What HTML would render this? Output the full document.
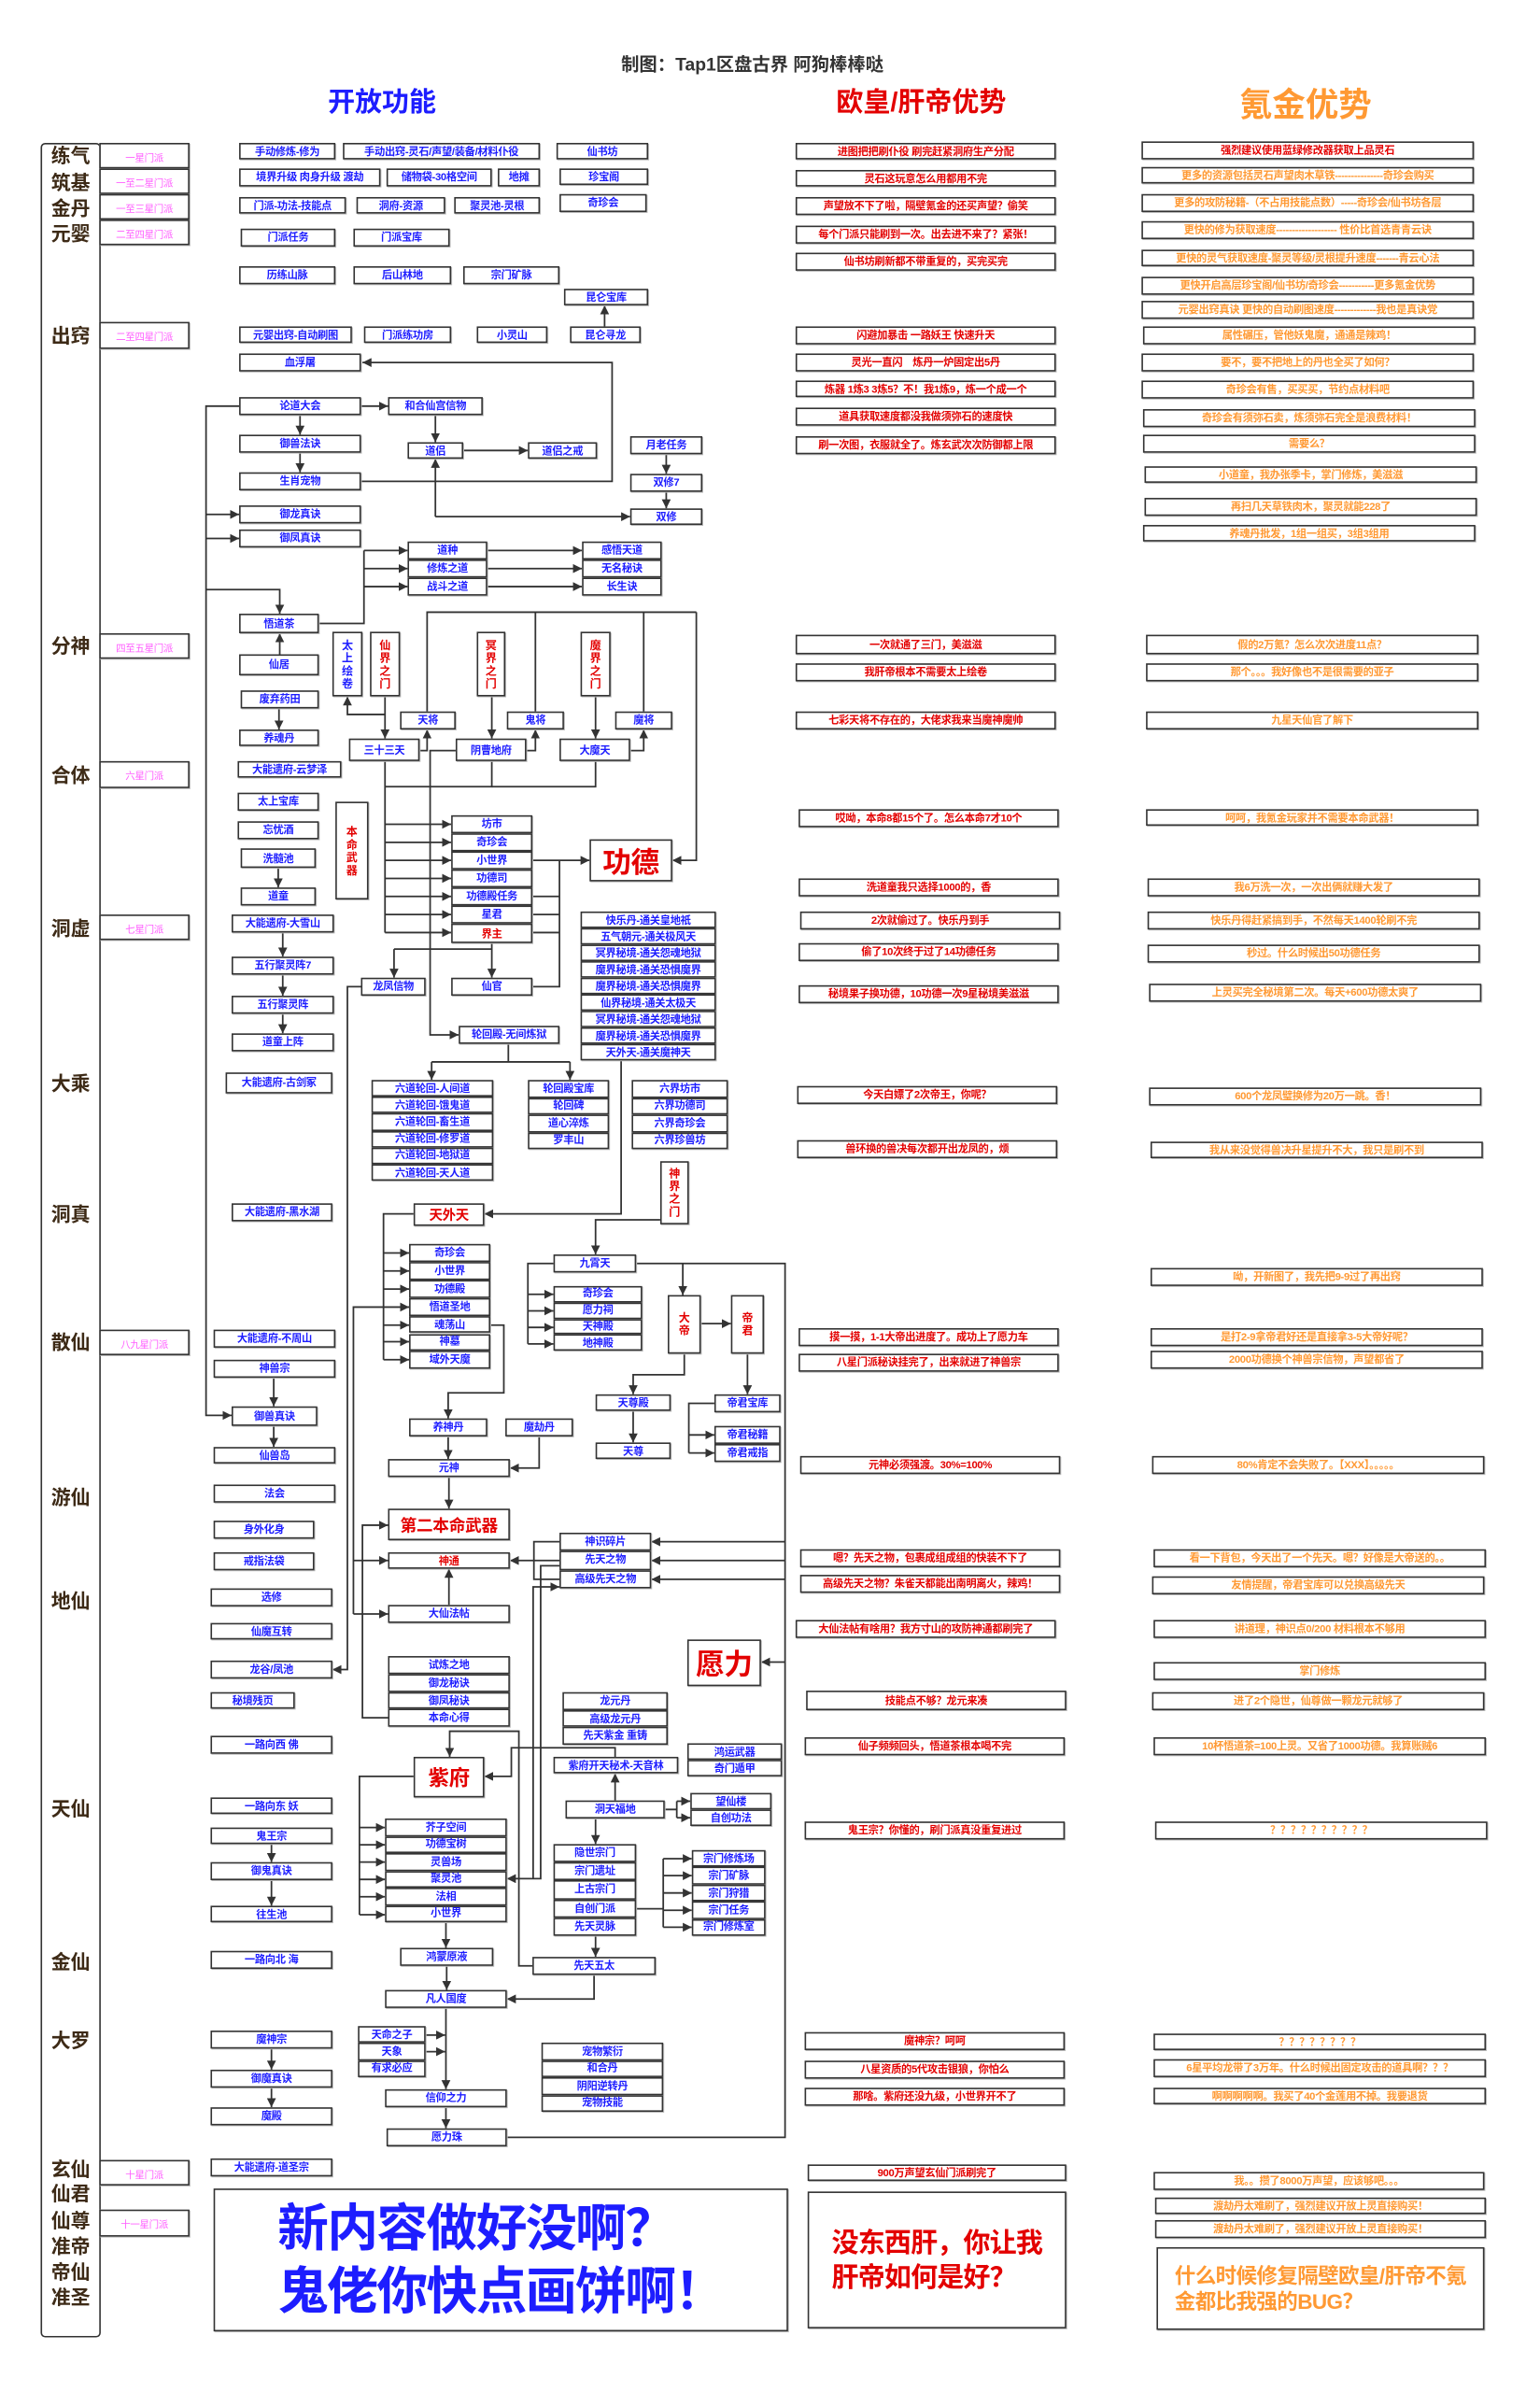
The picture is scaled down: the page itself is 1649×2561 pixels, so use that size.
<!DOCTYPE html>
<html><head><meta charset="utf-8">
<style>
html,body{margin:0;padding:0;background:#fff;width:1649px;height:2560px;overflow:hidden}
#c{position:absolute;left:0;top:0;width:1024px;height:1590px;transform:scale(1.6104);transform-origin:0 0;font-family:"Liberation Sans","Noto Sans CJK SC",sans-serif}
.b{position:absolute;box-sizing:border-box;border:1.1px solid #333;background:#fff;color:#1d1dff;font-weight:bold;font-size:7px;display:flex;align-items:center;justify-content:center;white-space:nowrap;letter-spacing:-0.2px;box-shadow:0.6px 0.6px 0 #bbb}
.r{color:#e30000}.o{color:#ff9933}.p{color:#ff5cff;font-weight:normal;font-size:6.5px}
.v{writing-mode:vertical-lr;text-orientation:upright;letter-spacing:1px;font-size:7.5px}
.t{position:absolute;font-weight:bold;white-space:nowrap}
.rl{position:absolute;left:28px;width:38px;text-align:center;font-size:13px;font-weight:bold;color:#3d2a16;line-height:14px}
svg{position:absolute;left:0;top:0}
svg polyline{fill:none;stroke:#333;stroke-width:1.1}
svg .a{marker-end:url(#m)}
</style></head><body><div id="c">
<svg width="1024" height="1590" viewBox="0 0 1024 1590">
<defs><marker id="m" markerUnits="userSpaceOnUse" markerWidth="6" markerHeight="6" refX="6" refY="3" orient="auto"><path d="M0,0L6,3L0,6z" fill="#333"/></marker></defs>
<polyline class="a" points="402,217 402,203"/>
<polyline class="a" points="240,320 407,320 407,241 241,241"/>
<polyline class="a" points="240,270 258,270"/>
<polyline class="a" points="199.5,276 199.5,289"/>
<polyline class="a" points="199.5,301 199.5,314"/>
<polyline class="a" points="289.5,276 289.5,294"/>
<polyline class="a" points="308,299.5 351,299.5"/>
<polyline class="a" points="443,302 443,315"/>
<polyline class="a" points="443,327 443,338"/>
<polyline class="a" points="289.5,343.5 419,343.5"/>
<polyline class="a" points="289.5,343.5 289.5,305"/>
<polyline class="a" points="159,270 137,270 137,941 154,941"/>
<polyline class="a" points="137,342 159,342"/>
<polyline class="a" points="137,358 159,358"/>
<polyline class="a" points="137,392 186,392 186,408"/>
<polyline class="a" points="186,435 186,421"/>
<polyline points="212,414.5 242,414.5 242,366"/>
<polyline class="a" points="242,366 271,366"/>
<polyline class="a" points="242,378 271,378"/>
<polyline class="a" points="242,390 271,390"/>
<polyline class="a" points="324,366 387,366"/>
<polyline class="a" points="324,378 387,378"/>
<polyline class="a" points="324,390 387,390"/>
<polyline class="a" points="185.5,471 185.5,485"/>
<polyline class="a" points="185,577 185,590"/>
<polyline class="a" points="256,463 256,491"/>
<polyline class="a" points="256,475 231,475 231,463"/>
<polyline points="284,473 284,407 463,407"/>
<polyline points="356,407 356,473"/>
<polyline points="428,407 428,473"/>
<polyline class="a" points="463,407 463,572 447,572"/>
<polyline class="a" points="327,463 327,491"/>
<polyline class="a" points="396,463 396,491"/>
<polyline class="a" points="279,499 284,499 284,485"/>
<polyline class="a" points="350,499 356,499 356,485"/>
<polyline class="a" points="419,499 428,499 428,485"/>
<polyline points="327,506 327,523 256,523"/>
<polyline points="396,506 396,523 327,523"/>
<polyline points="256,506 256,620"/>
<polyline class="a" points="256,548 300,548"/>
<polyline class="a" points="256,560 300,560"/>
<polyline class="a" points="256,572 300,572"/>
<polyline class="a" points="256,584 300,584"/>
<polyline class="a" points="256,596 300,596"/>
<polyline class="a" points="256,608 300,608"/>
<polyline class="a" points="256,620 300,620"/>
<polyline class="a" points="303,499 286,499 286,688 305,688"/>
<polyline class="a" points="354,572 392,572"/>
<polyline points="372,572 372,656 354,656"/>
<polyline points="354,596 372,596"/><polyline points="354,608 372,608"/><polyline points="354,620 372,620"/>
<polyline points="327,627 327,631 262,631"/>
<polyline class="a" points="262,631 262,650"/>
<polyline class="a" points="327,631 327,650"/>
<polyline class="a" points="240,656 231,656 231,1110 221,1110"/>
<polyline points="338,694 338,706"/>
<polyline class="a" points="287,706 287,718"/>
<polyline class="a" points="379,706 379,718"/>
<polyline points="287,706 379,706"/>
<polyline class="a" points="413,705 413,807 322,807"/>
<polyline class="a" points="439,811 396,811 396,834"/>
<polyline points="275,807 255,807 255,904"/>
<polyline class="a" points="255,833 272,833"/>
<polyline class="a" points="255,845 272,845"/>
<polyline class="a" points="255,857 272,857"/>
<polyline class="a" points="255,881 272,881"/>
<polyline class="a" points="255,892 272,892"/>
<polyline class="a" points="255,904 272,904"/>
<polyline class="a" points="235,1073 235,869 272,869"/>
<polyline class="a" points="235,1037.5 258,1037.5"/>
<polyline class="a" points="235,1073 258,1073"/>
<polyline class="a" points="326,881 335,881 335,926 298,926 298,943"/>
<polyline class="a" points="298,955 298,970"/>
<polyline class="a" points="358.5,955 358.5,976 339,976"/>
<polyline class="a" points="298.5,982 298.5,1003"/>
<polyline points="368,840 351,840 351,893.5"/>
<polyline class="a" points="351,860.5 368,860.5"/>
<polyline class="a" points="351,871.5 368,871.5"/>
<polyline class="a" points="351,882.5 368,882.5"/>
<polyline class="a" points="351,893.5 368,893.5"/>
<polyline points="423,840 522,840 522,1421 337,1421"/>
<polyline class="a" points="454,840 454,861"/>
<polyline class="a" points="466,880 486,880"/>
<polyline class="a" points="455,900 455,914 421,914 421,927"/>
<polyline class="a" points="421,938 421,959"/>
<polyline class="a" points="497,900 497,927"/>
<polyline points="475,933 458,933 458,966"/>
<polyline class="a" points="458,954 475,954"/>
<polyline class="a" points="458,966 475,966"/>
<polyline class="a" points="522,1025 433,1025"/>
<polyline class="a" points="522,1037.5 433,1037.5"/>
<polyline class="a" points="522,1050 433,1050"/>
<polyline class="a" points="522,1105 506,1105"/>
<polyline class="a" points="372,1037.5 339,1037.5"/>
<polyline class="a" points="298.5,1067 298.5,1043"/>
<polyline class="a" points="258,1142 241,1142 241,1014 258,1014"/>
<polyline points="372,1025 355,1025 355,1050 372,1050"/>
<polyline class="a" points="372,1041 359.5,1041 359.5,1249 337,1249"/>
<polyline class="a" points="354.5,1249 354.5,1055 372,1055"/>
<polyline class="a" points="409,1168 409,1162 340,1162 340,1181 322,1181"/>
<polyline class="a" points="354,1307 345,1307 345,1151 299,1151 299,1168"/>
<polyline points="275,1181 239,1181 239,1273"/>
<polyline class="a" points="239,1215 256,1215"/>
<polyline class="a" points="239,1226.5 256,1226.5"/>
<polyline class="a" points="239,1238 256,1238"/>
<polyline class="a" points="239,1249.5 256,1249.5"/>
<polyline class="a" points="239,1261 256,1261"/>
<polyline class="a" points="239,1273 256,1273"/>
<polyline class="a" points="296.5,1278 296.5,1295"/>
<polyline class="a" points="297,1307 297,1323"/>
<polyline class="a" points="409,1197 409,1179"/>
<polyline points="442,1203 450,1203 450,1197.5 450,1208.5"/>
<polyline class="a" points="450,1197.5 459,1197.5"/>
<polyline class="a" points="450,1208.5 459,1208.5"/>
<polyline class="a" points="396,1209 396,1226"/>
<polyline points="423,1269 441,1269"/>
<polyline points="441,1235.7 441,1281.3"/>
<polyline class="a" points="441,1235.7 460,1235.7"/>
<polyline class="a" points="441,1247 460,1247"/>
<polyline class="a" points="441,1258.5 460,1258.5"/>
<polyline class="a" points="441,1270 460,1270"/>
<polyline class="a" points="441,1281.3 460,1281.3"/>
<polyline class="a" points="396,1287 396,1301"/>
<polyline class="a" points="395,1313 395,1329 337,1329"/>
<polyline class="a" points="296.5,1335 296.5,1389"/>
<polyline class="a" points="283,1353 296,1353"/>
<polyline class="a" points="283,1364 296,1364"/>
<polyline class="a" points="296.5,1401 296.5,1415"/>
<polyline class="a" points="180.5,1362 180.5,1376"/>
<polyline class="a" points="180.5,1388 180.5,1401"/>
<polyline class="a" points="182,916 182,935"/>
<polyline class="a" points="182,948 182,962"/>
<polyline class="a" points="180.5,1226 180.5,1238"/>
<polyline class="a" points="180.5,1250 180.5,1267"/>
<polyline class="a" points="188,620 188,636"/>
<polyline class="a" points="188,648 188,662"/>
<polyline class="a" points="188,674 188,687"/>
</svg>

<div class="t" style="left:413px;top:34px;font-size:12px;color:#333">制图：Tap1区盘古界 阿狗棒棒哒</div>
<div class="t" style="left:218px;top:54px;font-size:18px;color:#1d1dff">开放功能</div>
<div class="t" style="left:556px;top:54px;font-size:18px;color:#e30000">欧皇/肝帝优势</div>
<div class="t" style="left:824px;top:52px;font-size:22px;color:#ff9933">氪金优势</div>

<div style="position:absolute;left:27px;top:95px;width:40px;height:1459px;box-sizing:border-box;border:1.2px solid #333;border-radius:3px"></div>
<div class="rl" style="top:97px">练气</div><div class="rl" style="top:115px">筑基</div><div class="rl" style="top:132px">金丹</div><div class="rl" style="top:149px">元婴</div>
<div class="rl" style="top:217px">出窍</div><div class="rl" style="top:423px">分神</div><div class="rl" style="top:509px">合体</div><div class="rl" style="top:611px">洞虚</div><div class="rl" style="top:714px">大乘</div>
<div class="rl" style="top:801px">洞真</div><div class="rl" style="top:886px">散仙</div><div class="rl" style="top:989px">游仙</div><div class="rl" style="top:1058px">地仙</div>
<div class="rl" style="top:1196px">天仙</div><div class="rl" style="top:1298px">金仙</div><div class="rl" style="top:1350px">大罗</div>
<div class="rl" style="top:1436px">玄仙</div><div class="rl" style="top:1452px">仙君</div><div class="rl" style="top:1470px">仙尊</div><div class="rl" style="top:1487px">准帝</div><div class="rl" style="top:1504px">帝仙</div><div class="rl" style="top:1521px">准圣</div>

<div class="b p" style="left:66px;top:95px;width:60px;height:17px">一星门派</div>
<div class="b p" style="left:66px;top:112px;width:60px;height:17px">一至二星门派</div>
<div class="b p" style="left:66px;top:129px;width:60px;height:17px">一至三星门派</div>
<div class="b p" style="left:66px;top:146px;width:60px;height:17px">二至四星门派</div>
<div class="b p" style="left:66px;top:214px;width:60px;height:18px">二至四星门派</div>
<div class="b p" style="left:66px;top:421px;width:60px;height:17px">四至五星门派</div>
<div class="b p" style="left:66px;top:506px;width:60px;height:18px">六星门派</div>
<div class="b p" style="left:66px;top:608px;width:60px;height:17px">七星门派</div>
<div class="b p" style="left:66px;top:884px;width:60px;height:17px">八九星门派</div>
<div class="b p" style="left:66px;top:1436px;width:60px;height:17px">十星门派</div>
<div class="b p" style="left:66px;top:1469px;width:60px;height:18px">十一星门派</div>

<div class="b" style="left:159px;top:95px;width:64px;height:11px">手动修炼-修为</div>
<div class="b" style="left:228px;top:95px;width:131px;height:11px">手动出窍-灵石/声望/装备/材料仆役</div>
<div class="b" style="left:370px;top:95px;width:61px;height:11px">仙书坊</div>
<div class="b" style="left:159px;top:112px;width:94px;height:12px">境界升级 肉身升级 渡劫</div>
<div class="b" style="left:257px;top:112px;width:70px;height:12px">储物袋-30格空间</div>
<div class="b" style="left:331px;top:112px;width:28px;height:12px">地摊</div>
<div class="b" style="left:372px;top:112px;width:59px;height:11px">珍宝阁</div>
<div class="b" style="left:159px;top:131px;width:71px;height:11px">门派-功法-技能点</div>
<div class="b" style="left:237px;top:131px;width:59px;height:11px">洞府-资源</div>
<div class="b" style="left:302px;top:131px;width:57px;height:11px">聚灵池-灵根</div>
<div class="b" style="left:372px;top:129px;width:58px;height:12px">奇珍会</div>
<div class="b" style="left:160px;top:152px;width:63px;height:12px">门派任务</div>
<div class="b" style="left:235px;top:152px;width:64px;height:12px">门派宝库</div>
<div class="b" style="left:159px;top:177px;width:64px;height:12px">历练山脉</div>
<div class="b" style="left:235px;top:177px;width:65px;height:12px">后山林地</div>
<div class="b" style="left:308px;top:177px;width:64px;height:12px">宗门矿脉</div>
<div class="b" style="left:375px;top:192px;width:56px;height:11px">昆仑宝库</div>
<div class="b" style="left:159px;top:217px;width:75px;height:11px">元婴出窍-自动刷图</div>
<div class="b" style="left:242px;top:217px;width:58px;height:11px">门派练功房</div>
<div class="b" style="left:317px;top:217px;width:47px;height:11px">小灵山</div>
<div class="b" style="left:379px;top:217px;width:47px;height:11px">昆仑寻龙</div>
<div class="b" style="left:159px;top:235px;width:81px;height:12px">血浮屠</div>
<div class="b" style="left:159px;top:264px;width:81px;height:12px">论道大会</div>
<div class="b" style="left:258px;top:264px;width:63px;height:12px">和合仙宫信物</div>
<div class="b" style="left:159px;top:289px;width:81px;height:12px">御兽法诀</div>
<div class="b" style="left:159px;top:314px;width:81px;height:12px">生肖宠物</div>
<div class="b" style="left:271px;top:294px;width:37px;height:11px">道侣</div>
<div class="b" style="left:351px;top:294px;width:46px;height:11px">道侣之戒</div>
<div class="b" style="left:419px;top:290px;width:48px;height:12px">月老任务</div>
<div class="b" style="left:419px;top:315px;width:48px;height:12px">双修7</div>
<div class="b" style="left:419px;top:338px;width:48px;height:11px">双修</div>
<div class="b" style="left:159px;top:336px;width:81px;height:12px">御龙真诀</div>
<div class="b" style="left:159px;top:352px;width:81px;height:12px">御凤真诀</div>
<div class="b" style="left:271px;top:360px;width:53px;height:12px">道种</div>
<div class="b" style="left:271px;top:372px;width:53px;height:12px">修炼之道</div>
<div class="b" style="left:271px;top:384px;width:53px;height:12px">战斗之道</div>
<div class="b" style="left:387px;top:360px;width:53px;height:12px">感悟天道</div>
<div class="b" style="left:387px;top:372px;width:53px;height:12px">无名秘诀</div>
<div class="b" style="left:387px;top:384px;width:53px;height:12px">长生诀</div>
<div class="b" style="left:159px;top:408px;width:53px;height:13px">悟道茶</div>
<div class="b" style="left:159px;top:435px;width:53px;height:14px">仙居</div>
<div class="b" style="left:160px;top:459px;width:52px;height:12px">废弃药田</div>
<div class="b" style="left:159px;top:485px;width:53px;height:11px">养魂丹</div>
<div class="b" style="left:158px;top:506px;width:69px;height:11px">大能遗府-云梦泽</div>
<div class="b" style="left:158px;top:527px;width:54px;height:12px">太上宝库</div>
<div class="b" style="left:158px;top:546px;width:54px;height:12px">忘忧酒</div>
<div class="b" style="left:160px;top:564px;width:50px;height:13px">洗髓池</div>
<div class="b" style="left:160px;top:590px;width:50px;height:12px">道童</div>
<div class="b r v" style="left:223px;top:533px;width:22px;height:65px">本命武器</div>
<div class="b" style="left:154px;top:608px;width:68px;height:12px">大能遗府-大雪山</div>
<div class="b" style="left:154px;top:636px;width:68px;height:12px">五行聚灵阵7</div>
<div class="b" style="left:154px;top:662px;width:68px;height:12px">五行聚灵阵</div>
<div class="b" style="left:154px;top:687px;width:68px;height:12px">道童上阵</div>
<div class="b" style="left:150px;top:713px;width:71px;height:14px">大能遗府-古剑冢</div>
<div class="b v" style="left:221px;top:420px;width:20px;height:43px">太上绘卷</div>
<div class="b r v" style="left:246px;top:420px;width:20px;height:43px">仙界之门</div>
<div class="b r v" style="left:317px;top:420px;width:19px;height:43px">冥界之门</div>
<div class="b r v" style="left:386px;top:420px;width:20px;height:43px">魔界之门</div>
<div class="b" style="left:266px;top:473px;width:37px;height:12px">天将</div>
<div class="b" style="left:337px;top:473px;width:38px;height:12px">鬼将</div>
<div class="b" style="left:409px;top:473px;width:38px;height:12px">魔将</div>
<div class="b" style="left:232px;top:491px;width:47px;height:15px">三十三天</div>
<div class="b" style="left:303px;top:491px;width:47px;height:15px">阴曹地府</div>
<div class="b" style="left:372px;top:491px;width:47px;height:15px">大魔天</div>
<div class="b" style="left:300px;top:542px;width:54px;height:12px">坊市</div>
<div class="b" style="left:300px;top:554px;width:54px;height:12px">奇珍会</div>
<div class="b" style="left:300px;top:566px;width:54px;height:12px">小世界</div>
<div class="b" style="left:300px;top:578px;width:54px;height:12px">功德司</div>
<div class="b" style="left:300px;top:590px;width:54px;height:12px">功德殿任务</div>
<div class="b" style="left:300px;top:602px;width:54px;height:12px">星君</div>
<div class="b r" style="left:300px;top:614px;width:54px;height:13px">界主</div>
<div class="b r" style="left:392px;top:558px;width:55px;height:28px;font-size:19px;border-width:1.3px">功德</div>
<div class="b" style="left:386px;top:606px;width:90px;height:11px">快乐丹-通关皇地祇</div>
<div class="b" style="left:386px;top:617px;width:90px;height:11px">五气朝元-通关极风天</div>
<div class="b" style="left:386px;top:628px;width:90px;height:11px">冥界秘境-通关怨魂地狱</div>
<div class="b" style="left:386px;top:639px;width:90px;height:11px">魔界秘境-通关恐惧魔界</div>
<div class="b" style="left:386px;top:650px;width:90px;height:11px">魔界秘境-通关恐惧魔界</div>
<div class="b" style="left:386px;top:661px;width:90px;height:11px">仙界秘境-通关太极天</div>
<div class="b" style="left:386px;top:672px;width:90px;height:11px">冥界秘境-通关怨魂地狱</div>
<div class="b" style="left:386px;top:683px;width:90px;height:11px">魔界秘境-通关恐惧魔界</div>
<div class="b" style="left:386px;top:694px;width:90px;height:11px">天外天-通关魔神天</div>
<div class="b" style="left:240px;top:650px;width:43px;height:12px">龙凤信物</div>
<div class="b" style="left:300px;top:650px;width:54px;height:12px">仙官</div>
<div class="b" style="left:305px;top:682px;width:67px;height:12px">轮回殿-无间炼狱</div>
<div class="b" style="left:247px;top:718px;width:81px;height:11.2px">六道轮回-人间道</div>
<div class="b" style="left:247px;top:729.2px;width:81px;height:11.2px">六道轮回-饿鬼道</div>
<div class="b" style="left:247px;top:740.4px;width:81px;height:11.2px">六道轮回-畜生道</div>
<div class="b" style="left:247px;top:751.6px;width:81px;height:11.2px">六道轮回-修罗道</div>
<div class="b" style="left:247px;top:762.8px;width:81px;height:11.2px">六道轮回-地狱道</div>
<div class="b" style="left:247px;top:774px;width:81px;height:11.2px">六道轮回-天人道</div>
<div class="b" style="left:351px;top:718px;width:54px;height:11.5px">轮回殿宝库</div>
<div class="b" style="left:351px;top:729.5px;width:54px;height:11.5px">轮回碑</div>
<div class="b" style="left:351px;top:741px;width:54px;height:11.5px">道心淬炼</div>
<div class="b" style="left:351px;top:752.5px;width:54px;height:11.5px">罗丰山</div>
<div class="b" style="left:420px;top:718px;width:64px;height:11.5px">六界坊市</div>
<div class="b" style="left:420px;top:729.5px;width:64px;height:11.5px">六界功德司</div>
<div class="b" style="left:420px;top:741px;width:64px;height:11.5px">六界奇珍会</div>
<div class="b" style="left:420px;top:752.5px;width:64px;height:11.5px">六界珍兽坊</div>
<div class="b" style="left:154px;top:800px;width:67px;height:12px">大能遗府-黑水湖</div>
<div class="b r" style="left:275px;top:800px;width:47px;height:15px;font-size:9px">天外天</div>
<div class="b r v" style="left:439px;top:772px;width:19px;height:42px">神界之门</div>
<div class="b" style="left:272px;top:827px;width:54px;height:11.9px">奇珍会</div>
<div class="b" style="left:272px;top:838.9px;width:54px;height:11.9px">小世界</div>
<div class="b" style="left:272px;top:850.8px;width:54px;height:11.9px">功德殿</div>
<div class="b" style="left:272px;top:862.7px;width:54px;height:11.9px">悟道圣地</div>
<div class="b" style="left:272px;top:874.6px;width:54px;height:11.9px">魂荡山</div>
<div class="b" style="left:272px;top:886.5px;width:54px;height:11.9px">神墓</div>
<div class="b" style="left:272px;top:898.4px;width:54px;height:11.9px">域外天魔</div>
<div class="b" style="left:368px;top:834px;width:55px;height:12px">九霄天</div>
<div class="b" style="left:368px;top:855px;width:59px;height:10.8px">奇珍会</div>
<div class="b" style="left:368px;top:865.8px;width:59px;height:10.8px">愿力祠</div>
<div class="b" style="left:368px;top:876.6px;width:59px;height:10.8px">天神殿</div>
<div class="b" style="left:368px;top:887.4px;width:59px;height:10.8px">地神殿</div>
<div class="b r v" style="left:444px;top:861px;width:22px;height:39px">大帝</div>
<div class="b r v" style="left:486px;top:861px;width:22px;height:39px">帝君</div>
<div class="b" style="left:396px;top:927px;width:50px;height:11px">天尊殿</div>
<div class="b" style="left:396px;top:959px;width:50px;height:11px">天尊</div>
<div class="b" style="left:475px;top:927px;width:44px;height:12px">帝君宝库</div>
<div class="b" style="left:475px;top:948px;width:44px;height:12px">帝君秘籍</div>
<div class="b" style="left:475px;top:960px;width:44px;height:12px">帝君戒指</div>
<div class="b" style="left:142px;top:884px;width:81px;height:12px">大能遗府-不周山</div>
<div class="b" style="left:142px;top:904px;width:81px;height:12px">神兽宗</div>
<div class="b" style="left:154px;top:935px;width:57px;height:13px">御兽真诀</div>
<div class="b" style="left:142px;top:962px;width:81px;height:11px">仙兽岛</div>
<div class="b" style="left:142px;top:987px;width:81px;height:12px">法会</div>
<div class="b" style="left:142px;top:1011px;width:67px;height:12px">身外化身</div>
<div class="b" style="left:142px;top:1032px;width:67px;height:12px">戒指法袋</div>
<div class="b" style="left:140px;top:1056px;width:81px;height:12px">选修</div>
<div class="b" style="left:140px;top:1079px;width:81px;height:11px">仙魔互转</div>
<div class="b" style="left:140px;top:1104px;width:81px;height:12px">龙谷/凤池</div>
<div class="b" style="left:140px;top:1125px;width:56px;height:11px">秘境残页</div>
<div class="b" style="left:272px;top:943px;width:52px;height:12px">养神丹</div>
<div class="b" style="left:336px;top:943px;width:45px;height:12px">魔劫丹</div>
<div class="b" style="left:258px;top:970px;width:81px;height:12px">元神</div>
<div class="b r" style="left:258px;top:1003px;width:81px;height:21px;font-size:11px">第二本命武器</div>
<div class="b" style="left:372px;top:1019px;width:61px;height:12.3px">神识碎片</div>
<div class="b" style="left:372px;top:1031.3px;width:61px;height:12.3px">先天之物</div>
<div class="b" style="left:372px;top:1043.6px;width:61px;height:12.3px">高级先天之物</div>
<div class="b r" style="left:258px;top:1032px;width:81px;height:11px">神通</div>
<div class="b" style="left:258px;top:1067px;width:81px;height:12px">大仙法帖</div>
<div class="b" style="left:258px;top:1101px;width:81px;height:11.8px">试炼之地</div>
<div class="b" style="left:258px;top:1112.8px;width:81px;height:11.8px">御龙秘诀</div>
<div class="b" style="left:258px;top:1124.6px;width:81px;height:11.8px">御凤秘诀</div>
<div class="b" style="left:258px;top:1136.4px;width:81px;height:11.8px">本命心得</div>
<div class="b r" style="left:457px;top:1090px;width:49px;height:31px;font-size:19px;border-width:1.3px">愿力</div>
<div class="b" style="left:374px;top:1125px;width:70px;height:11.7px">龙元丹</div>
<div class="b" style="left:374px;top:1136.7px;width:70px;height:11.7px">高级龙元丹</div>
<div class="b" style="left:374px;top:1148.4px;width:70px;height:11.7px">先天紫金 重铸</div>
<div class="b" style="left:140px;top:1154px;width:81px;height:12px">一路向西 佛</div>
<div class="b r" style="left:275px;top:1168px;width:47px;height:27px;font-size:14px">紫府</div>
<div class="b" style="left:368px;top:1168px;width:83px;height:11px">紫府开天秘术-天音林</div>
<div class="b" style="left:457px;top:1159px;width:63px;height:11px">鸿运武器</div>
<div class="b" style="left:457px;top:1170px;width:63px;height:11px">奇门遁甲</div>
<div class="b" style="left:376px;top:1197px;width:66px;height:12px">洞天福地</div>
<div class="b" style="left:459px;top:1192px;width:54px;height:11px">望仙楼</div>
<div class="b" style="left:459px;top:1203px;width:54px;height:11px">自创功法</div>
<div class="b" style="left:140px;top:1195px;width:81px;height:11px">一路向东 妖</div>
<div class="b" style="left:140px;top:1215px;width:81px;height:11px">鬼王宗</div>
<div class="b" style="left:140px;top:1238px;width:81px;height:12px">御鬼真诀</div>
<div class="b" style="left:140px;top:1267px;width:81px;height:11px">往生池</div>
<div class="b" style="left:256px;top:1209px;width:81px;height:11.5px">芥子空间</div>
<div class="b" style="left:256px;top:1220.5px;width:81px;height:11.5px">功德宝树</div>
<div class="b" style="left:256px;top:1232px;width:81px;height:11.5px">灵兽场</div>
<div class="b" style="left:256px;top:1243.5px;width:81px;height:11.5px">聚灵池</div>
<div class="b" style="left:256px;top:1255px;width:81px;height:11.5px">法相</div>
<div class="b" style="left:256px;top:1266.5px;width:81px;height:11.5px">小世界</div>
<div class="b" style="left:368px;top:1226px;width:55px;height:12.2px">隐世宗门</div>
<div class="b" style="left:368px;top:1238.2px;width:55px;height:12.2px">宗门遗址</div>
<div class="b" style="left:368px;top:1250.4px;width:55px;height:12.2px">上古宗门</div>
<div class="b" style="left:368px;top:1262.6px;width:55px;height:12.2px">自创门派</div>
<div class="b" style="left:368px;top:1274.8px;width:55px;height:12.2px">先天灵脉</div>
<div class="b" style="left:460px;top:1230px;width:49px;height:11.4px">宗门修炼场</div>
<div class="b" style="left:460px;top:1241.4px;width:49px;height:11.4px">宗门矿脉</div>
<div class="b" style="left:460px;top:1252.8px;width:49px;height:11.4px">宗门狩猎</div>
<div class="b" style="left:460px;top:1264.2px;width:49px;height:11.4px">宗门任务</div>
<div class="b" style="left:460px;top:1275.6px;width:49px;height:11.4px">宗门修炼室</div>
<div class="b" style="left:140px;top:1297px;width:81px;height:12px">一路向北 海</div>
<div class="b" style="left:266px;top:1295px;width:62px;height:12px">鸿蒙原液</div>
<div class="b" style="left:354px;top:1301px;width:82px;height:12px">先天五太</div>
<div class="b" style="left:256px;top:1323px;width:81px;height:12px">凡人国度</div>
<div class="b" style="left:140px;top:1350px;width:81px;height:12px">魔神宗</div>
<div class="b" style="left:140px;top:1376px;width:81px;height:12px">御魔真诀</div>
<div class="b" style="left:140px;top:1401px;width:81px;height:12px">魔殿</div>
<div class="b" style="left:238px;top:1347px;width:45px;height:11.3px">天命之子</div>
<div class="b" style="left:238px;top:1358.3px;width:45px;height:11.3px">天象</div>
<div class="b" style="left:238px;top:1369.6px;width:45px;height:11.3px">有求必应</div>
<div class="b" style="left:256px;top:1389px;width:81px;height:12px">信仰之力</div>
<div class="b" style="left:257px;top:1415px;width:80px;height:12px">愿力珠</div>
<div class="b" style="left:360px;top:1358px;width:81px;height:11.5px">宠物繁衍</div>
<div class="b" style="left:360px;top:1369.5px;width:81px;height:11.5px">和合丹</div>
<div class="b" style="left:360px;top:1381px;width:81px;height:11.5px">阴阳逆转丹</div>
<div class="b" style="left:360px;top:1392.5px;width:81px;height:11.5px">宠物技能</div>
<div class="b" style="left:140px;top:1435px;width:81px;height:12px">大能遗府-道圣宗</div>

<div class="b" style="left:142px;top:1455px;width:382px;height:95px;font-size:34px;flex-direction:column;line-height:42px;border-width:1.3px;letter-spacing:-1px">新内容做好没啊？<br>鬼佬你快点画饼啊！</div>
<div class="b r" style="left:537px;top:1457px;width:172px;height:91px;font-size:18px;flex-direction:column;line-height:23px;border-width:1.3px;letter-spacing:-0.5px">没东西肝，你让我<br>肝帝如何是好？</div>
<div class="b o" style="left:769px;top:1494px;width:218px;height:55px;font-size:14px;flex-direction:column;line-height:17px;border-width:1.3px;letter-spacing:-0.4px">什么时候修复隔壁欧皇/肝帝不氪<br>金都比我强的BUG？</div>

<div class="b r" style="left:529px;top:95px;width:173px;height:11px">进图把把刷仆役 刷完赶紧洞府生产分配</div>
<div class="b r" style="left:529px;top:113px;width:173px;height:11px">灵石这玩意怎么用都用不完</div>
<div class="b r" style="left:529px;top:131px;width:173px;height:12px">声望放不下了啦，隔壁氪金的还买声望？偷笑</div>
<div class="b r" style="left:529px;top:150px;width:173px;height:12px">每个门派只能刷到一次。出去进不来了？紧张！</div>
<div class="b r" style="left:529px;top:168px;width:173px;height:12px">仙书坊刷新都不带重复的，买完买完</div>
<div class="b r" style="left:529px;top:217px;width:173px;height:12px">闪避加暴击 一路妖王 快速升天</div>
<div class="b r" style="left:529px;top:235px;width:173px;height:12px">灵光一直闪　炼丹一炉固定出5丹</div>
<div class="b r" style="left:529px;top:253px;width:173px;height:11px">炼器 1炼3 3炼5？不！我1炼9，炼一个成一个</div>
<div class="b r" style="left:529px;top:271px;width:173px;height:12px">道具获取速度都没我做须弥石的速度快</div>
<div class="b r" style="left:529px;top:290px;width:173px;height:12px">刷一次图，衣服就全了。炼玄武次次防御都上限</div>
<div class="b r" style="left:529px;top:422px;width:173px;height:13px">一次就通了三门，美滋滋</div>
<div class="b r" style="left:529px;top:441px;width:173px;height:12px">我肝帝根本不需要太上绘卷</div>
<div class="b r" style="left:529px;top:473px;width:173px;height:12px">七彩天将不存在的，大佬求我来当魔神魔帅</div>
<div class="b r" style="left:531px;top:538px;width:173px;height:12px">哎呦，本命8都15个了。怎么本命7才10个</div>
<div class="b r" style="left:531px;top:584px;width:173px;height:12px">洗道童我只选择1000的，香</div>
<div class="b r" style="left:532px;top:606px;width:173px;height:12px">2次就偷过了。快乐丹到手</div>
<div class="b r" style="left:531px;top:627px;width:173px;height:12px">偷了10次终于过了14功德任务</div>
<div class="b r" style="left:531px;top:655px;width:173px;height:12px">秘境果子换功德，10功德一次9星秘境美滋滋</div>
<div class="b r" style="left:530px;top:722px;width:173px;height:12px">今天白嫖了2次帝王，你呢？</div>
<div class="b r" style="left:530px;top:758px;width:173px;height:12px">兽环换的兽决每次都开出龙凤的，烦</div>
<div class="b r" style="left:531px;top:883px;width:173px;height:12px">摸一摸，1-1大帝出进度了。成功上了愿力车</div>
<div class="b r" style="left:531px;top:900px;width:173px;height:12px">八星门派秘诀挂完了，出来就进了神兽宗</div>
<div class="b r" style="left:532px;top:968px;width:173px;height:12px">元神必须强渡。30%=100%</div>
<div class="b r" style="left:532px;top:1030px;width:173px;height:12px">嗯？先天之物，包裹成组成组的快装不下了</div>
<div class="b r" style="left:532px;top:1047px;width:173px;height:12px">高级先天之物？朱雀天都能出南明离火，辣鸡！</div>
<div class="b r" style="left:529px;top:1077px;width:173px;height:12px">大仙法帖有啥用？我方寸山的攻防神通都刷完了</div>
<div class="b r" style="left:536px;top:1124px;width:173px;height:13px">技能点不够？龙元来凑</div>
<div class="b r" style="left:535px;top:1155px;width:173px;height:12px">仙子频频回头，悟道茶根本喝不完</div>
<div class="b r" style="left:535px;top:1211px;width:173px;height:12px">鬼王宗？你懂的，刷门派真没重复进过</div>
<div class="b r" style="left:535px;top:1351px;width:173px;height:12px">魔神宗？呵呵</div>
<div class="b r" style="left:535px;top:1370px;width:173px;height:12px">八星资质的5代攻击银狼，你怕么</div>
<div class="b r" style="left:535px;top:1388px;width:173px;height:12px">那啥。紫府还没九级，小世界开不了</div>
<div class="b r" style="left:537px;top:1439px;width:172px;height:11px">900万声望玄仙门派刷完了</div>

<div class="b r" style="left:759px;top:94px;width:221px;height:12px">强烈建议使用蓝绿修改器获取上品灵石</div>
<div class="b o" style="left:759px;top:111px;width:221px;height:11px">更多的资源包括灵石声望肉木草铁---------------奇珍会购买</div>
<div class="b o" style="left:759px;top:129px;width:221px;height:12px">更多的攻防秘籍-（不占用技能点数）-----奇珍会/仙书坊各层</div>
<div class="b o" style="left:759px;top:147px;width:221px;height:12px">更快的修为获取速度------------------- 性价比首选青青云诀</div>
<div class="b o" style="left:759px;top:166px;width:221px;height:11px">更快的灵气获取速度-聚灵等级/灵根提升速度-------青云心法</div>
<div class="b o" style="left:759px;top:184px;width:221px;height:12px">更快开启高层珍宝阁/仙书坊/奇珍会-----------更多氪金优势</div>
<div class="b o" style="left:759px;top:200px;width:221px;height:12px">元婴出窍真诀 更快的自动刷图速度-------------我也是真诀党</div>
<div class="b o" style="left:760px;top:217px;width:221px;height:12px">属性碾压，管他妖鬼魔，通通是辣鸡！</div>
<div class="b o" style="left:759px;top:235px;width:221px;height:12px">要不，要不把地上的丹也全买了如何？</div>
<div class="b o" style="left:759px;top:253px;width:221px;height:12px">奇珍会有售，买买买，节约点材料吧</div>
<div class="b o" style="left:760px;top:272px;width:221px;height:12px">奇珍会有须弥石卖，炼须弥石完全是浪费材料！</div>
<div class="b o" style="left:760px;top:289px;width:221px;height:12px">需要么？</div>
<div class="b o" style="left:761px;top:310px;width:221px;height:11px">小道童，我办张季卡，掌门修炼，美滋滋</div>
<div class="b o" style="left:761px;top:331px;width:221px;height:12px">再扫几天草铁肉木，聚灵就能228了</div>
<div class="b o" style="left:760px;top:349px;width:221px;height:11px">养魂丹批发，1组一组买，3组3组用</div>
<div class="b o" style="left:762px;top:422px;width:221px;height:13px">假的2万氪？怎么次次进度11点？</div>
<div class="b o" style="left:762px;top:441px;width:221px;height:12px">那个。。。我好像也不是很需要的亚子</div>
<div class="b o" style="left:762px;top:473px;width:221px;height:12px">九星天仙官了解下</div>
<div class="b o" style="left:762px;top:538px;width:221px;height:11px">呵呵，我氪金玩家并不需要本命武器！</div>
<div class="b o" style="left:763px;top:584px;width:221px;height:12px">我6万洗一次，一次出俩就赚大发了</div>
<div class="b o" style="left:763px;top:606px;width:221px;height:12px">快乐丹得赶紧搞到手，不然每天1400轮刷不完</div>
<div class="b o" style="left:763px;top:628px;width:221px;height:12px">秒过。什么时候出50功德任务</div>
<div class="b o" style="left:764px;top:654px;width:221px;height:12px">上灵买完全秘境第二次。每天+600功德太爽了</div>
<div class="b o" style="left:764px;top:723px;width:221px;height:12px">600个龙凤璧换修为20万一跳。香！</div>
<div class="b o" style="left:765px;top:759px;width:221px;height:11px">我从来没觉得兽决升星提升不大，我只是刷不到</div>
<div class="b o" style="left:765px;top:843px;width:221px;height:12px">呦，开新图了，我先把9-9过了再出窍</div>
<div class="b o" style="left:765px;top:883px;width:221px;height:12px">是打2-9拿帝君好还是直接拿3-5大帝好呢？</div>
<div class="b o" style="left:765px;top:898px;width:221px;height:12px">2000功德换个神兽宗信物，声望都省了</div>
<div class="b o" style="left:766px;top:968px;width:221px;height:12px">80%肯定不会失败了。【XXX】。。。。。</div>
<div class="b o" style="left:767px;top:1030px;width:221px;height:12px">看一下背包，今天出了一个先天。嗯？好像是大帝送的。。</div>
<div class="b o" style="left:766px;top:1048px;width:221px;height:12px">友情提醒，帝君宝库可以兑换高级先天</div>
<div class="b o" style="left:767px;top:1077px;width:221px;height:12px">讲道理，神识点0/200 材料根本不够用</div>
<div class="b o" style="left:767px;top:1105px;width:221px;height:12px">掌门修炼</div>
<div class="b o" style="left:766px;top:1125px;width:221px;height:12px">进了2个隐世，仙尊做一颗龙元就够了</div>
<div class="b o" style="left:767px;top:1155px;width:221px;height:12px">10杯悟道茶=100上灵。又省了1000功德。我算账贼6</div>
<div class="b o" style="left:768px;top:1211px;width:221px;height:12px">？？？？？？？？？？</div>
<div class="b o" style="left:767px;top:1352px;width:221px;height:11px">？？？？？？？？</div>
<div class="b o" style="left:767px;top:1369px;width:221px;height:12px">6星平均龙带了3万年。什么时候出固定攻击的道具啊？？？</div>
<div class="b o" style="left:767px;top:1388px;width:221px;height:11px">啊啊啊啊啊。我买了40个金莲用不掉。我要退货</div>
<div class="b o" style="left:767px;top:1444px;width:220px;height:12px">我。。攒了8000万声望，应该够吧。。。</div>
<div class="b o" style="left:768px;top:1461px;width:220px;height:11px">渡劫丹太难刷了，强烈建议开放上灵直接购买！</div>
<div class="b o" style="left:768px;top:1476px;width:220px;height:12px">渡劫丹太难刷了，强烈建议开放上灵直接购买！</div>
</div></body></html>
